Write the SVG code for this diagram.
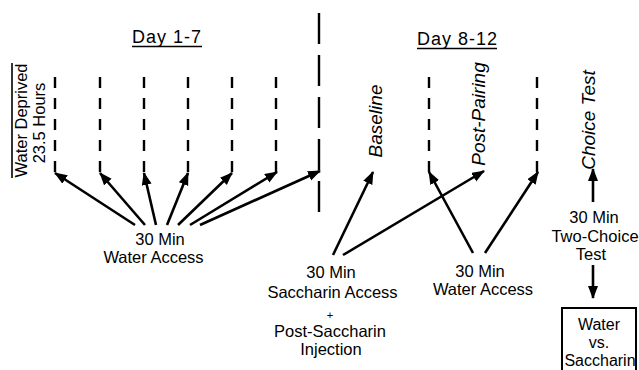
<svg xmlns="http://www.w3.org/2000/svg" width="639" height="370" viewBox="0 0 639 370">
  <style>
    text { font-family: "Liberation Sans", Arial, sans-serif; font-size: 16.5px; fill: #000; }
    .mid { text-anchor: middle; }
    .title { font-size: 18px; letter-spacing: 1px; }
    .phase { font-size: 19px; font-style: italic; text-anchor: middle; }
    .boxed { font-size: 16px; }
    .arrow { stroke: #000; stroke-width: 2.6; fill: none; marker-end: url(#head); }
    .day { stroke: #000; stroke-width: 2.4; stroke-dasharray: 11 10; fill: none; }
    .rule { stroke: #000; stroke-width: 1.6; fill: none; }
  </style>
  <defs>
    <marker id="head" markerUnits="userSpaceOnUse" markerWidth="14" markerHeight="11" refX="12" refY="5" orient="auto">
      <path d="M0,0 L13,5 L0,10 z" fill="#000"/>
    </marker>
  </defs>
  <rect width="639" height="370" fill="#fff"/>

  <!-- section headings -->
  <g id="heading-days-1-7">
    <text class="title" x="132" y="43">Day 1-7</text>
    <line class="rule" x1="132" y1="46.5" x2="202" y2="46.5"/>
  </g>
  <g id="heading-days-8-12">
    <text class="title" x="417" y="45">Day 8-12</text>
    <line class="rule" x1="417" y1="48.5" x2="497" y2="48.5"/>
  </g>

  <!-- deprivation label -->
  <g id="deprivation">
    <line class="rule" x1="12" y1="63" x2="12" y2="178"/>
    <text class="mid" transform="translate(27,120.5) rotate(-90)">Water Deprived</text>
    <text class="mid" transform="translate(45,123) rotate(-90)">23.5 Hours</text>
  </g>

  <!-- daily session markers -->
  <g id="day-lines">
    <path class="day" d="M55,172 V76 M100,172 V76 M144,172 V76 M188,172 V76 M232,172 V76 M276,172 V76 M429,172 V74 M537,172 V74"/>
  </g>
  <g id="divider">
    <line x1="319" y1="13" x2="319" y2="213" stroke="#000" stroke-width="2.4" stroke-dasharray="31 11"/>
  </g>

  <!-- phase labels -->
  <g id="baseline"><text class="phase" transform="translate(382,121) rotate(-90)">Baseline</text></g>
  <g id="post-pairing"><text class="phase" transform="translate(484.5,114) rotate(-90)">Post-Pairing</text></g>
  <g id="choice-test"><text class="phase" transform="translate(595,120) rotate(-90)">Choice Test</text></g>

  <!-- procedure labels -->
  <g id="water-access-1">
    <text class="mid" x="160" y="245">30 Min</text>
    <text class="mid" x="153.5" y="263">Water Access</text>
  </g>
  <g id="saccharin-access">
    <text class="mid" x="331" y="278">30 Min</text>
    <text class="mid" x="332.5" y="298">Saccharin Access</text>
    <text class="mid" x="330" y="319" style="font-size:11px">+</text>
    <text class="mid" x="330" y="337">Post-Saccharin</text>
    <text class="mid" x="331" y="355">Injection</text>
  </g>
  <g id="water-access-2">
    <text class="mid" x="480" y="277">30 Min</text>
    <text class="mid" x="483" y="295">Water Access</text>
  </g>
  <g id="two-choice">
    <text class="mid" x="594" y="223">30 Min</text>
    <text class="mid" x="595" y="242">Two-Choice</text>
    <text class="mid" x="591" y="260">Test</text>
  </g>
  <g id="water-vs-saccharin">
    <rect x="562" y="308" width="74" height="70" fill="none" stroke="#000" stroke-width="2"/>
    <text class="mid boxed" x="599" y="330">Water</text>
    <text class="mid boxed" x="599" y="348">vs.</text>
    <text class="mid boxed" x="600" y="366">Saccharin</text>
  </g>

  <!-- connectors -->
  <g id="connectors">
    <line class="arrow" x1="135" y1="225" x2="55" y2="173"/>
    <line class="arrow" x1="145" y1="225" x2="100" y2="173"/>
    <line class="arrow" x1="156" y1="225" x2="144" y2="173"/>
    <line class="arrow" x1="167" y1="225" x2="188" y2="173"/>
    <line class="arrow" x1="178" y1="225" x2="232" y2="173"/>
    <line class="arrow" x1="190" y1="225" x2="277" y2="172"/>
    <line class="arrow" x1="200" y1="225" x2="320" y2="171"/>
    <line class="arrow" x1="333" y1="255" x2="373" y2="172"/>
    <line class="arrow" x1="343" y1="255" x2="484" y2="171"/>
    <line class="arrow" x1="473" y1="253" x2="429" y2="172"/>
    <line class="arrow" x1="485" y1="253" x2="538" y2="172"/>
    <line class="arrow" x1="593" y1="202" x2="593" y2="169"/>
    <line class="arrow" x1="593" y1="265" x2="593" y2="298"/>
  </g>
</svg>
